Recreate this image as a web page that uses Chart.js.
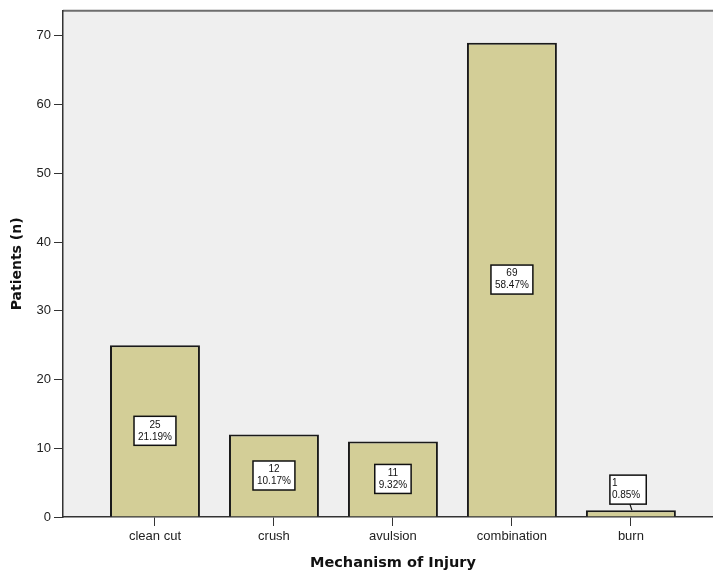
<!DOCTYPE html>
<html>
<head>
<meta charset="utf-8">
<script src="https://cdn.jsdelivr.net/npm/chart.js@4"></script>
<style>
html,body{margin:0;padding:0;background:#fff;}
#wrap{width:713px;height:574px;position:relative;}
</style>
</head>
<body>
<div id="wrap"><canvas id="c" width="713" height="574"></canvas></div>
<script>
const categories = ["clean cut", "crush", "avulsion", "combination", "burn"];
const patients = [25, 12, 11, 69, 1];
const percents = ["21.19%", "10.17%", "9.32%", "58.47%", "0.85%"];
const yTicks = [0, 10, 20, 30, 40, 50, 60, 70];
const xTitle = "Mechanism of Injury";
const yTitle = "Patients (n)";

const plotBg = {
  id: 'plotBg',
  beforeDraw(chart) {
    const {ctx, chartArea: a} = chart;
    ctx.save();
    ctx.fillStyle = '#efefef';
    ctx.fillRect(a.left, a.top, a.right - a.left, a.bottom - a.top);
    ctx.strokeStyle = '#6e6e6e';
    ctx.lineWidth = 2;
    ctx.beginPath();
    ctx.moveTo(a.left, a.top);
    ctx.lineTo(a.right, a.top);
    ctx.stroke();
    ctx.restore();
  },
  afterDraw(chart) {
    // x-axis title centred under the category range
    const {ctx} = chart;
    const xs = chart.scales.x;
    const cx = (xs.getPixelForValue(0) + xs.getPixelForValue(categories.length - 1)) / 2;
    ctx.save();
    ctx.font = 'bold 14.5px "DejaVu Sans", sans-serif';
    ctx.fillStyle = '#111';
    ctx.textAlign = 'center';
    ctx.textBaseline = 'middle';
    ctx.fillText(xTitle, cx, 563);
    ctx.restore();
  }
};

const boxLabels = {
  id: 'boxLabels',
  afterDatasetsDraw(chart) {
    const {ctx} = chart;
    const meta = chart.getDatasetMeta(0);
    ctx.save();
    ctx.font = '10px "Liberation Sans", Arial, sans-serif';
    ctx.textBaseline = 'middle';
    meta.data.forEach((bar, i) => {
      const l1 = String(patients[i]);
      const l2 = percents[i];
      const w = Math.max(ctx.measureText(l1).width, ctx.measureText(l2).width) + 8;
      const h = 29;
      const barH = bar.base - bar.y;
      let bx, by, leftAlign = false;
      if (barH > h + 6) {
        bx = bar.x - w / 2;
        by = (bar.y + bar.base) / 2 - h / 2;
      } else {
        leftAlign = true;
        bx = bar.x - 21;
        by = bar.y - 6 - h;
        ctx.strokeStyle = '#111';
        ctx.lineWidth = 1.2;
        ctx.beginPath();
        ctx.moveTo(bar.x - 1, by + h);
        ctx.lineTo(bar.x + 1, bar.y);
        ctx.stroke();
      }
      ctx.fillStyle = '#ffffff';
      ctx.fillRect(bx, by, w, h);
      ctx.strokeStyle = '#111';
      ctx.lineWidth = 1.5;
      ctx.strokeRect(bx, by, w, h);
      ctx.fillStyle = '#111';
      if (leftAlign) {
        ctx.textAlign = 'left';
        ctx.fillText(l1, bx + 2, by + 8.5);
        ctx.fillText(l2, bx + 2, by + 20.5);
      } else {
        ctx.textAlign = 'center';
        ctx.fillText(l1, bx + w / 2, by + 8.5);
        ctx.fillText(l2, bx + w / 2, by + 20.5);
      }
    });
    ctx.restore();
  }
};

new Chart(document.getElementById('c'), {
  type: 'bar',
  data: {
    datasets: [{
      data: patients.map((v, i) => ({x: i, y: v})),
      backgroundColor: '#d3ce97',
      borderColor: '#1a1a1a',
      borderWidth: 2,
      barPercentage: 0.756,
      categoryPercentage: 1
    }]
  },
  options: {
    responsive: false,
    animation: false,
    layout: {padding: {top: 10, right: 0, left: 0, bottom: 0}},
    plugins: {legend: {display: false}, tooltip: {enabled: false}},
    scales: {
      x: {
        type: 'linear',
        offset: false,
        min: -0.773,
        max: 4.69,
        afterFit(s) { s.height = 57; },
        afterBuildTicks(s) { s.ticks = categories.map((c, i) => ({value: i})); },
        ticks: {
          autoSkip: false, maxRotation: 0, padding: 3,
          color: '#222',
          font: {family: '"Liberation Sans", Arial, sans-serif', size: 13},
          callback: (v) => categories[v]
        },
        grid: {offset: false, drawOnChartArea: false, tickLength: 9, color: '#333', lineWidth: 1},
        border: {color: '#333', width: 1.5},
        title: {display: false}
      },
      y: {
        min: 0,
        max: 73.63,
        afterFit(s) { s.width = 63; },
        afterBuildTicks(s) { s.ticks = yTicks.map(v => ({value: v})); },
        ticks: {
          padding: 3, color: '#222',
          font: {family: '"Liberation Sans", Arial, sans-serif', size: 13}
        },
        grid: {drawOnChartArea: false, tickLength: 9, color: '#333', lineWidth: 1},
        border: {color: '#333', width: 1.5},
        title: {
          display: true, text: yTitle, color: '#111',
          font: {family: '"DejaVu Sans", sans-serif', size: 14, weight: 'bold'},
          padding: {top: 9, bottom: 0}
        }
      }
    }
  },
  plugins: [plotBg, boxLabels]
});
</script>
</body>
</html>
